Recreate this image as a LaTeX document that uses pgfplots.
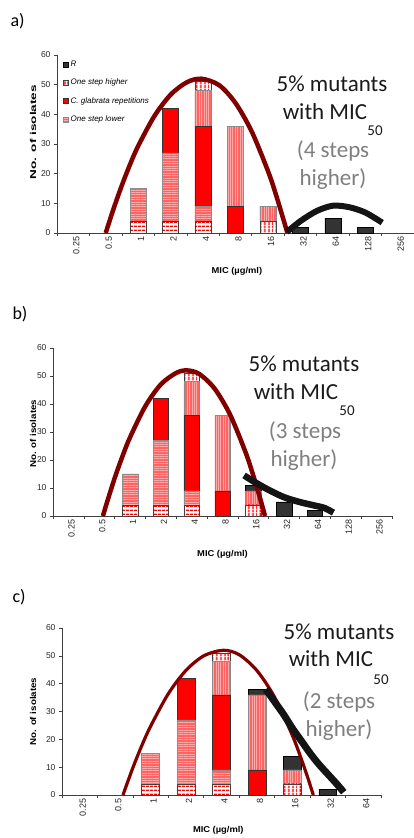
\documentclass[border=0pt]{standalone}
\usepackage{fontspec}
\setmainfont{Liberation Sans}
\newfontfamily\calibri{Carlito}
\usepackage{pgfplots}
\pgfplotsset{compat=1.18}
\usetikzlibrary{patterns.meta}
\definecolor{pinkbase}{HTML}{FF6464}
\definecolor{pinklight}{HTML}{FFA8A8}
\definecolor{darkred}{HTML}{800000}
\definecolor{rdark}{HTML}{333333}
\definecolor{txtgray}{HTML}{7F7F7F}
\definecolor{txtblack}{HTML}{1A1A1A}
\tikzset{
 sA/.style={preaction={fill=white}, pattern={Lines[angle=0,distance=4pt,line width=1.6pt]}, pattern color=red, draw=black!75, line width=0.5pt},
 sB/.style={preaction={fill=pinkbase}, pattern={Lines[angle=0,distance=2.4pt,line width=0.8pt]}, pattern color=pinklight, draw=black!45, line width=0.5pt},
 sC/.style={fill=red, draw=black!80, line width=0.5pt},
 sD/.style={preaction={fill=pinkbase}, pattern={Lines[angle=90,distance=2.4pt,line width=0.8pt]}, pattern color=pinklight, draw=black!45, line width=0.5pt},
 sE/.style={preaction={fill=white}, pattern={Lines[angle=90,distance=4pt,line width=1.8pt]}, pattern color=red, draw=black!75, line width=0.5pt},
 sF/.style={fill=rdark, draw=black, line width=0.5pt},
}
\pgfplotsset{
 boxlegend/.style={legend image code/.code={\draw[##1] (0pt,-2.5pt) rectangle (5pt,2.5pt);}},
 mic/.style={
  scale only axis, anchor=south west, clip=false,
  ybar stacked, bar width=0.5,
  ymin=0, ymax=60, ytick={0,10,...,60},
  axis x line*=bottom, axis y line*=left,
  axis line style={-, black!75, line width=0.6pt},
  tick align=outside, major tick length=3pt,
  tick style={black!75, line width=0.6pt},
  /pgf/number format/assume math mode=true,
  y tick label style={font=\fontsize{8.5}{8.5}\selectfont, color=black!85},
  xticklabels={,,,,,,,,,,,,,},
  extra x tick style={major tick length=0pt, tick label style={rotate=90, anchor=east, font=\fontsize{9}{9}\selectfont, color=black!85, yshift=-3pt}},
  xlabel style={anchor=center, font=\fontsize{8.5}{9}\bfseries},
  ylabel style={anchor=center, font=\fontsize{8.5}{9}\bfseries},
 },
}
\begin{document}
\begin{tikzpicture}[x=1pt,y=1pt]
\useasboundingbox (0,0) rectangle (414,838);
% ---------------- panel a
\begin{axis}[mic, at={(57pt,605pt)}, width=357pt, height=178pt,
  xmin=-0.5, xmax=10.5, xtick={-0.5,0.5,...,10.5},
  extra x ticks={0,...,10},
  extra x tick labels={0.25,0.5,1,2,4,8,16,32,64,128,256},
  xlabel={\scalebox{1.1}[1]{MIC (µg/ml)}},
  xlabel style={at={(axis description cs:0.504,-0.2135)}},
  ylabel={\scalebox{1.6}[1]{No. of isolates}},
  ylabel style={at={(axis description cs:-0.067,0.567)}},
  legend style={at={(axis description cs:0,1)}, anchor=north west, xshift=5pt, yshift=-3pt,
    draw=none, fill=none, font=\itshape\fontsize{8}{9}\selectfont, row sep=7pt, inner sep=1pt},
  legend cell align=left]
\addlegendimage{sF, boxlegend}\addlegendentry{R}
\addlegendimage{sE, boxlegend}\addlegendentry{One step higher}
\addlegendimage{sC, boxlegend}\addlegendentry{C. glabrata repetitions}
\addlegendimage{sB, boxlegend}\addlegendentry{One step lower}
\addplot[sA] coordinates {(2,4) (3,4) (4,4) (5,0) (6,0) (7,0) (8,0) (9,0)};
\addplot[sB] coordinates {(2,11) (3,23) (4,5) (5,0) (6,0) (7,0) (8,0) (9,0)};
\addplot[sC] coordinates {(2,0) (3,15) (4,27) (5,9) (6,0) (7,0) (8,0) (9,0)};
\addplot[sE] coordinates {(2,0) (3,0) (4,0) (5,0) (6,4) (7,0) (8,0) (9,0)};
\addplot[sD] coordinates {(2,0) (3,0) (4,12) (5,27) (6,5) (7,0) (8,0) (9,0)};
\addplot[sE] coordinates {(2,0) (3,0) (4,3) (5,0) (6,0) (7,0) (8,0) (9,0)};
\addplot[sF] coordinates {(2,0) (3,0) (4,0) (5,0) (6,0) (7,2) (8,5) (9,2)};
\end{axis}
\begin{axis}[scale only axis, anchor=south west, at={(57pt,605pt)}, width=357pt, height=178pt,
  xmin=-0.5, xmax=10.5, ymin=0, ymax=60, axis lines=none, clip=false]
\addplot[darkred, line width=4.5pt, smooth] coordinates {(1.0,0) (1.25,8.4) (1.5,16.1) (1.75,23.1) (2.0,29.3) (2.5,39.4) (3.0,46.6) (3.5,50.8) (3.95,52) (4.5,49.8) (5.0,43.8) (5.5,34.2) (6.0,20.9) (6.25,12.8) (6.6,0)};
\addplot[black!92, line width=6pt, smooth] coordinates {(6.58,0.3) (7.0,4.0) (7.5,7.4) (8.0,9.2) (8.5,8.7) (9.0,6.9) (9.52,3.5)};
\end{axis}
\node[anchor=base west, font=\calibri\fontsize{18}{18}\selectfont] at (7,811) {a)};
\node[anchor=base, font=\calibri\fontsize{23}{23}\selectfont, text=txtblack] at (332,746) {5\% mutants};
\node[anchor=base, font=\calibri\fontsize{23}{23}\selectfont, text=txtblack] at (325,718) {with MIC};
\node[anchor=center, font=\calibri\fontsize{15}{15}\selectfont, text=txtblack] at (375,707) {50};
\node[anchor=base, font=\calibri\fontsize{23}{23}\selectfont, text=txtgray] at (333,680) {(4 steps};
\node[anchor=base, font=\calibri\fontsize{23}{23}\selectfont, text=txtgray] at (333,652) {higher)};
% ---------------- panel b
\begin{axis}[mic, at={(53pt,322pt)}, width=339pt, height=168pt,
  xmin=-0.5, xmax=10.5, xtick={-0.5,0.5,...,10.5},
  extra x ticks={0,...,10},
  extra x tick labels={0.25,0.5,1,2,4,8,16,32,64,128,256},
  xlabel={\scalebox{1.1}[1]{MIC (µg/ml)}},
  xlabel style={at={(axis description cs:0.5,-0.226)}},
  ylabel={\scalebox{1.15}[1]{No. of isolates}},
  ylabel style={at={(axis description cs:-0.059,0.49)}}]
\addplot[sA] coordinates {(2,4) (3,4) (4,4) (5,0) (6,0) (7,0) (8,0)};
\addplot[sB] coordinates {(2,11) (3,23) (4,5) (5,0) (6,0) (7,0) (8,0)};
\addplot[sC] coordinates {(2,0) (3,15) (4,27) (5,9) (6,0) (7,0) (8,0)};
\addplot[sE] coordinates {(2,0) (3,0) (4,0) (5,0) (6,4) (7,0) (8,0)};
\addplot[sD] coordinates {(2,0) (3,0) (4,12) (5,27) (6,5) (7,0) (8,0)};
\addplot[sE] coordinates {(2,0) (3,0) (4,3) (5,0) (6,0) (7,0) (8,0)};
\addplot[sF] coordinates {(2,0) (3,0) (4,0) (5,0) (6,2) (7,5) (8,2)};
\end{axis}
\begin{axis}[scale only axis, anchor=south west, at={(53pt,322pt)}, width=339pt, height=168pt,
  xmin=-0.5, xmax=10.5, ymin=0, ymax=60, axis lines=none, clip=false]
\addplot[darkred, line width=4.5pt, smooth] coordinates {(1.12,0) (1.25,4.8) (1.5,13.5) (1.75,21.2) (2.0,28.1) (2.5,39.3) (3.0,47.0) (3.5,51.1) (3.85,52) (4.25,50.7) (4.75,45.4) (5.25,36.1) (5.75,22.7) (6.0,14.4) (6.2,7.1) (6.38,0)};
\addplot[black!92, line width=6.5pt, smooth] coordinates {(5.7,14.5) (6.0,12.4) (6.5,9.3) (7.0,6.7) (7.5,5.0) (8.0,3.7) (8.3,2.9) (8.6,1.2)};
\end{axis}
\node[anchor=base west, font=\calibri\fontsize{18}{18}\selectfont] at (9,518) {b)};
\node[anchor=base, font=\calibri\fontsize{23}{23}\selectfont, text=txtblack] at (304,466) {5\% mutants};
\node[anchor=base, font=\calibri\fontsize{23}{23}\selectfont, text=txtblack] at (296,438) {with MIC};
\node[anchor=center, font=\calibri\fontsize{15}{15}\selectfont, text=txtblack] at (347,427) {50};
\node[anchor=base, font=\calibri\fontsize{23}{23}\selectfont, text=txtgray] at (305,399) {(3 steps};
\node[anchor=base, font=\calibri\fontsize{23}{23}\selectfont, text=txtgray] at (304,371) {higher)};
% ---------------- panel c
\begin{axis}[mic, at={(62pt,43pt)}, width=319pt, height=167pt,
  xmin=-0.5, xmax=8.5, xtick={-0.5,0.5,...,8.5},
  extra x ticks={0,...,8},
  extra x tick labels={0.25,0.5,1,2,4,8,16,32,64},
  xlabel={\scalebox{1.1}[1]{MIC (µg/ml)}},
  xlabel style={at={(axis description cs:0.49,-0.21)}},
  ylabel={\scalebox{1.15}[1]{No. of isolates}},
  ylabel style={at={(axis description cs:-0.091,0.5)}}]
\addplot[sA] coordinates {(2,4) (3,4) (4,4) (5,0) (6,0) (7,0)};
\addplot[sB] coordinates {(2,11) (3,23) (4,5) (5,0) (6,0) (7,0)};
\addplot[sC] coordinates {(2,0) (3,15) (4,27) (5,9) (6,0) (7,0)};
\addplot[sE] coordinates {(2,0) (3,0) (4,0) (5,0) (6,4) (7,0)};
\addplot[sD] coordinates {(2,0) (3,0) (4,12) (5,27) (6,5) (7,0)};
\addplot[sE] coordinates {(2,0) (3,0) (4,3) (5,0) (6,0) (7,0)};
\addplot[sF] coordinates {(2,0) (3,0) (4,0) (5,2) (6,5) (7,2)};
\end{axis}
\begin{axis}[scale only axis, anchor=south west, at={(62pt,43pt)}, width=319pt, height=167pt,
  xmin=-0.5, xmax=8.5, ymin=0, ymax=60, axis lines=none, clip=false]
\addplot[darkred, line width=3.2pt, smooth] coordinates {(1.22,0) (1.5,9.8) (1.75,17.7) (2.0,24.7) (2.5,36.4) (3.0,44.8) (3.5,50.0) (4.05,52) (4.5,50.4) (5.0,44.7) (5.5,35.1) (6.0,21.4) (6.25,13.0) (6.45,5.6) (6.59,0)};
\addplot[black!92, line width=7pt, smooth] coordinates {(5.25,38) (5.5,33.5) (5.75,29) (6.0,24) (6.25,19.5) (6.5,15) (6.75,11) (7.0,7.5) (7.25,4) (7.45,1)};
\end{axis}
\node[anchor=base west, font=\calibri\fontsize{18}{18}\selectfont] at (9,235) {c)};
\node[anchor=base, font=\calibri\fontsize{23}{23}\selectfont, text=txtblack] at (339,198) {5\% mutants};
\node[anchor=base, font=\calibri\fontsize{23}{23}\selectfont, text=txtblack] at (331,171) {with MIC};
\node[anchor=center, font=\calibri\fontsize{15}{15}\selectfont, text=txtblack] at (381,158) {50};
\node[anchor=base, font=\calibri\fontsize{23}{23}\selectfont, text=txtgray] at (339,129) {(2 steps};
\node[anchor=base, font=\calibri\fontsize{23}{23}\selectfont, text=txtgray] at (339,101) {higher)};
\end{tikzpicture}
\end{document}
